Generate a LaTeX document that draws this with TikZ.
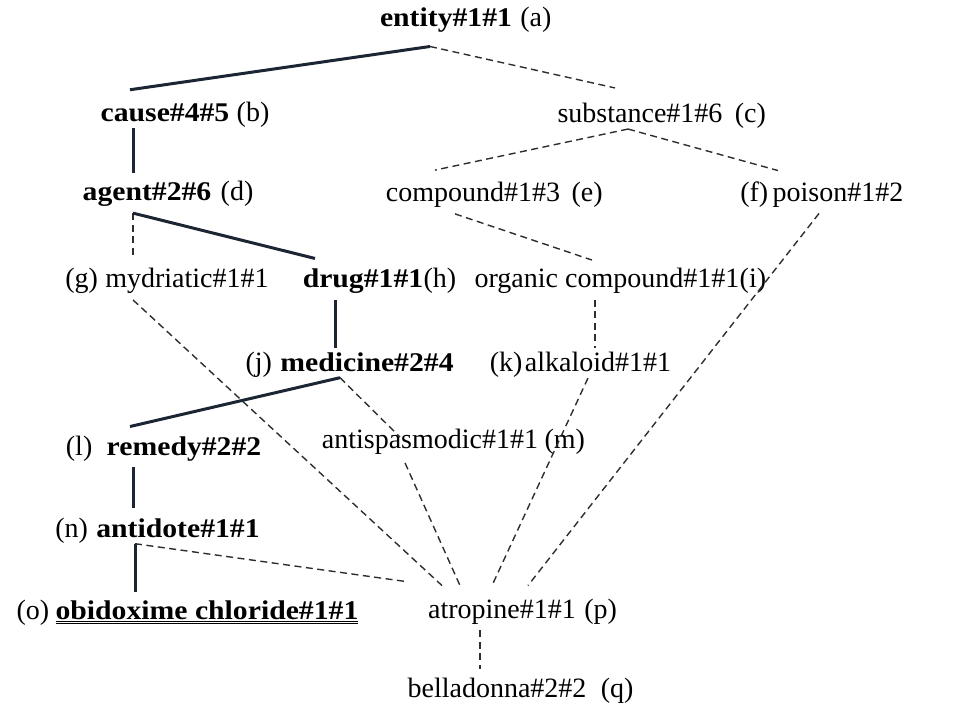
\documentclass[tikz,border=0pt]{standalone}
\usepackage{fontspec}
\setmainfont{Liberation Serif}[BoldFeatures={FakeStretch=1.1}]
\usetikzlibrary{positioning}
\definecolor{solidlink}{HTML}{1C2533}
\definecolor{dashlink}{HTML}{2E2E2E}

\tikzset{
  sense/.style={inner sep=0pt, font=\fontsize{28}{32}\selectfont},
  keysense/.style={inner sep=0pt, font=\fontsize{27}{31}\selectfont\bfseries},
  tag/.style={inner sep=0pt, font=\fontsize{28}{32}\selectfont},
  isa/.style={solidlink, line width=3pt},
  weak/.style={dashlink, line width=1.4pt, dash pattern=on 7pt off 4.5pt}
}

\begin{document}
\begin{tikzpicture}[x=1pt, y=-1pt]
    \useasboundingbox (0,0) rectangle (956,709);

    % Begriffe
    \node[keysense] (entity) at (446,20) {entity\#1\#1};
    \node[tag, right=8pt of entity.base east, anchor=base west] (entitytag) {(a)};

    \node[keysense] (cause) at (165,113) {cause\#4\#5};
    \node[tag, right=7pt of cause.base east, anchor=base west] (causetag) {(b)};
    \node[sense] (substance) at (640,113) {substance\#1\#6};
    \node[tag, right=12pt of substance.base east, anchor=base west] (substancetag) {(c)};

    \node[keysense] (agent) at (147,195) {agent\#2\#6};
    \node[tag, right=9pt of agent.base east, anchor=base west] (agenttag) {(d)};
    \node[sense] (compound) at (473,195) {compound\#1\#3};
    \node[tag, right=11pt of compound.base east, anchor=base west] (compoundtag) {(e)};
    \node[sense] (poison) at (838,195) {poison\#1\#2};
    \node[tag, left=4pt of poison.base west, anchor=base east] (poisontag) {(f)};

    \node[sense] (mydriatic) at (187,281) {mydriatic\#1\#1};
    \node[tag, left=7pt of mydriatic.base west, anchor=base east] (mydriatictag) {(g)};
    \node[keysense] (drug) at (363,281) {drug\#1\#1};
    \node[tag, right=0pt of drug.base east, anchor=base west] (drugtag) {(h)};
    \node[sense] (organic) at (607,281) {organic compound\#1\#1};
    \node[tag, right=0pt of organic.base east, anchor=base west] (organictag) {(i)};

    \node[keysense] (medicine) at (367,362) {medicine\#2\#4};
    \node[tag, left=8pt of medicine.base west, anchor=base east] (medicinetag) {(j)};
    \node[sense] (alkaloid) at (598,362) {alkaloid\#1\#1};
    \node[tag, left=2pt of alkaloid.base west, anchor=base east] (alkaloidtag) {(k)};

    \node[keysense] (remedy) at (184,449) {remedy\#2\#2};
    \node[tag, left=14pt of remedy.base west, anchor=base east] (remedytag) {(l)};
    \node[sense] (antispasmodic) at (430,442) {antispasmodic\#1\#1};
    \node[tag, right=6pt of antispasmodic.base east, anchor=base west] (antispasmodictag) {(m)};

    \node[keysense] (antidote) at (178,528) {antidote\#1\#1};
    \node[tag, left=8pt of antidote.base west, anchor=base east] (antidotetag) {(n)};

    \node[keysense] (obidoxime) at (207,612) {\underline{\underline{obidoxime chloride\#1\#1}}};
    \node[tag, left=6pt of obidoxime.base west, anchor=base east] (obidoximetag) {(o)};
    \node[sense] (atropine) at (502,612) {atropine\#1\#1};
    \node[tag, right=8pt of atropine.base east, anchor=base west] (atropinetag) {(p)};

    \node[sense] (belladonna) at (497,688) {belladonna\#2\#2};
    \node[tag, right=14pt of belladonna.base east, anchor=base west] (belladonnatag) {(q)};

    % Hyperonym-Kanten
    \draw[isa] ([xshift=-16pt, yshift=-14pt]entity.south) -- ([xshift=-35pt, yshift=14pt]cause.north);
    \draw[weak] ([xshift=-16pt, yshift=-14pt]entity.south) -- ([xshift=-25pt, yshift=15pt]substance.north);
    \draw[isa] ([xshift=-32pt, yshift=-6pt]cause.south) -- ([xshift=-14pt, yshift=10pt]agent.north);
    \draw[weak] ([xshift=-12pt, yshift=-6pt]substance.south) -- ([xshift=-38pt, yshift=12pt]compound.north);
    \draw[weak] ([xshift=-12pt, yshift=-6pt]substance.south) -- ([xshift=-60pt, yshift=12pt]poison.north);
    \draw[weak] ([xshift=-14pt, yshift=-6pt]agent.south) -- ([xshift=-54pt, yshift=10pt]mydriatic.north);
    \draw[isa] ([xshift=-14pt, yshift=-6pt]agent.south) -- ([xshift=-48pt, yshift=10pt]drug.north);
    \draw[weak] ([xshift=-18pt, yshift=-6pt]compound.south) -- ([xshift=-15pt, yshift=8pt]organic.north);
    \draw[weak] ([xshift=-19pt, yshift=-6pt]poison.south) -- ([xshift=26pt, yshift=14pt]atropine.north);
    \draw[isa] ([xshift=-28pt, yshift=-6pt]drug.south) -- ([xshift=-32pt, yshift=4pt]medicine.north);
    \draw[weak] ([xshift=-12pt, yshift=-6pt]organic.south) -- ([xshift=-3pt, yshift=4pt]alkaloid.north);
    \draw[weak] ([xshift=-54pt, yshift=-6pt]mydriatic.south) -- ([xshift=-60pt, yshift=14pt]atropine.north);
    \draw[isa] ([xshift=-27pt, yshift=-6pt]medicine.south) -- ([xshift=-54pt, yshift=10pt]remedy.north);
    \draw[weak] ([xshift=-27pt, yshift=-6pt]medicine.south) -- ([xshift=-30pt, yshift=-8pt]antispasmodic.north);
    \draw[weak] ([xshift=-10pt, yshift=-6pt]alkaloid.south) -- ([xshift=-10pt, yshift=14pt]atropine.north);
    \draw[weak] ([xshift=-25pt, yshift=-8pt]antispasmodic.south) -- ([xshift=-42pt, yshift=14pt]atropine.north);
    \draw[isa] ([xshift=-51pt, yshift=-6pt]remedy.south) -- ([xshift=-45pt, yshift=10pt]antidote.north);
    \draw[isa] ([xshift=-43pt, yshift=-6pt]antidote.south) -- ([xshift=-72pt, yshift=8pt]obidoxime.north);
    \draw[weak] ([xshift=-43pt, yshift=-6pt]antidote.south) -- ([xshift=-96pt, yshift=18pt]atropine.north);
    \draw[weak] ([xshift=-22pt, yshift=-6pt]atropine.south) -- ([xshift=-17pt, yshift=9pt]belladonna.north);
\end{tikzpicture}
\end{document}
